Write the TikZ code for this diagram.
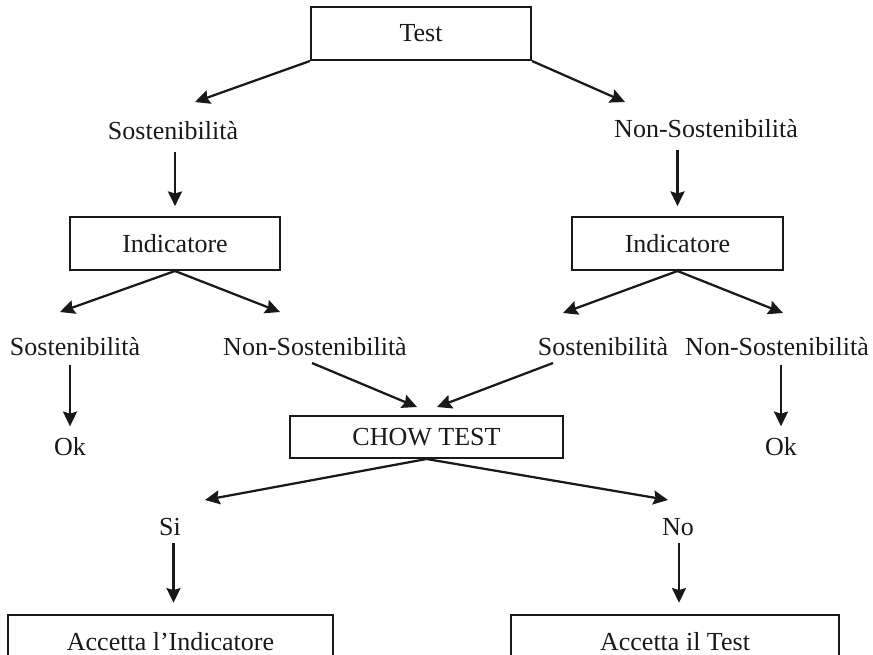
\documentclass[tikz,border=0pt]{standalone}
\usepackage{fontspec}
\setmainfont{Liberation Serif}
\usepackage{tikz}
\usetikzlibrary{arrows.meta,positioning}

\begin{document}
\begin{tikzpicture}[
    x=0.025cm, y=-0.025cm,
    testbox/.style={rectangle, draw=black!90, line width=1.4pt, minimum height=1.325cm, text=black!90, text centered, font=\fontsize{18.5}{22}\selectfont},
    outcome/.style={inner sep=2pt, text=black!90, font=\fontsize{18.5}{22}\selectfont},
    arrow/.style={-{Stealth[length=10.5pt, width=10pt, inset=1.5pt]}, line width=1.6pt, draw=black!90}
]
\useasboundingbox (0,0) rectangle (873,654);
\clip (0,0) rectangle (873,654);

% level 0
\node[testbox, minimum width=5.5cm] (test) at (421,33.5) {Test};

% level 1
\node[outcome] (sost) at (173,131) {Sostenibilità};
\node[outcome] (nonsost) at (706,129) {Non-Sostenibilità};
\coordinate (tip_sost) at (195,102);
\coordinate (tip_nonsost) at (625,102);
\draw[arrow] (test.south west) -- (tip_sost);
\draw[arrow] (test.south east) -- (tip_nonsost);

\node[testbox, minimum width=5.25cm] (ind_l) at (175,243.5) {Indicatore};
\node[testbox, minimum width=5.275cm] (ind_r) at (677.5,243.5) {Indicatore};
\draw[arrow, shorten >=7pt] ([yshift=-6pt]sost.south -| ind_l.north) -- (ind_l.north);
\draw[arrow, shorten >=7pt] ([yshift=-6pt]nonsost.south -| ind_r.north) -- (ind_r.north);

% level 2
\node[outcome] (sost_l) at (75,347) {Sostenibilità};
\node[outcome] (nonsost_l) at (315,347) {Non-Sostenibilità};
\node[outcome] (sost_r) at (603,347) {Sostenibilità};
\node[outcome] (nonsost_r) at (777,347) {Non-Sostenibilità};
\coordinate (tip_sost_l) at (60,312);
\coordinate (tip_nonsost_l) at (280,312);
\coordinate (tip_sost_r) at (563,313);
\coordinate (tip_nonsost_r) at (783,313);
\draw[arrow] (ind_l.south) -- (tip_sost_l);
\draw[arrow] (ind_l.south) -- (tip_nonsost_l);
\draw[arrow] (ind_r.south) -- (tip_sost_r);
\draw[arrow] (ind_r.south) -- (tip_nonsost_r);

\node[outcome] (ok_l) at (70,447) {Ok};
\node[outcome] (ok_r) at (781,447) {Ok};
\draw[arrow, shorten >=6pt] ([yshift=-4pt]sost_l.south -| ok_l.north) -- (ok_l.north);
\draw[arrow, shorten >=6pt] ([yshift=-4pt]nonsost_r.south -| ok_r.north) -- (ok_r.north);

% chow test
\node[testbox, minimum width=6.825cm, minimum height=1.05cm] (chow) at (426.5,437) {CHOW TEST};
\coordinate (from_nonsost_l) at (312,363);
\coordinate (from_sost_r) at (553,363);
\coordinate (tip_chow_l) at (417,407);
\coordinate (tip_chow_r) at (437,407);
\draw[arrow] (from_nonsost_l) -- (tip_chow_l);
\draw[arrow] (from_sost_r) -- (tip_chow_r);

% level 3
\node[outcome] (si) at (170,527) {Si};
\node[outcome] (no) at (678,527) {No};
\coordinate (tip_si) at (205,500);
\coordinate (tip_no) at (668,500);
\draw[arrow] (chow.south) -- (tip_si);
\draw[arrow] (chow.south) -- (tip_no);

\node[testbox, minimum width=8.125cm] (acc_ind) at (170.5,641.5) {Accetta l’Indicatore};
\node[testbox, minimum width=8.2cm] (acc_test) at (675,641.5) {Accetta il Test};
\draw[arrow, shorten >=8pt] ([yshift=-3pt]si.south -| acc_ind.north) ++(3,0) -- ([xshift=3*0.025cm]acc_ind.north);
\draw[arrow, shorten >=8pt] ([yshift=-3pt]no.south -| acc_test.north) ++(4,0) -- ([xshift=4*0.025cm]acc_test.north);
\end{tikzpicture}
\end{document}
